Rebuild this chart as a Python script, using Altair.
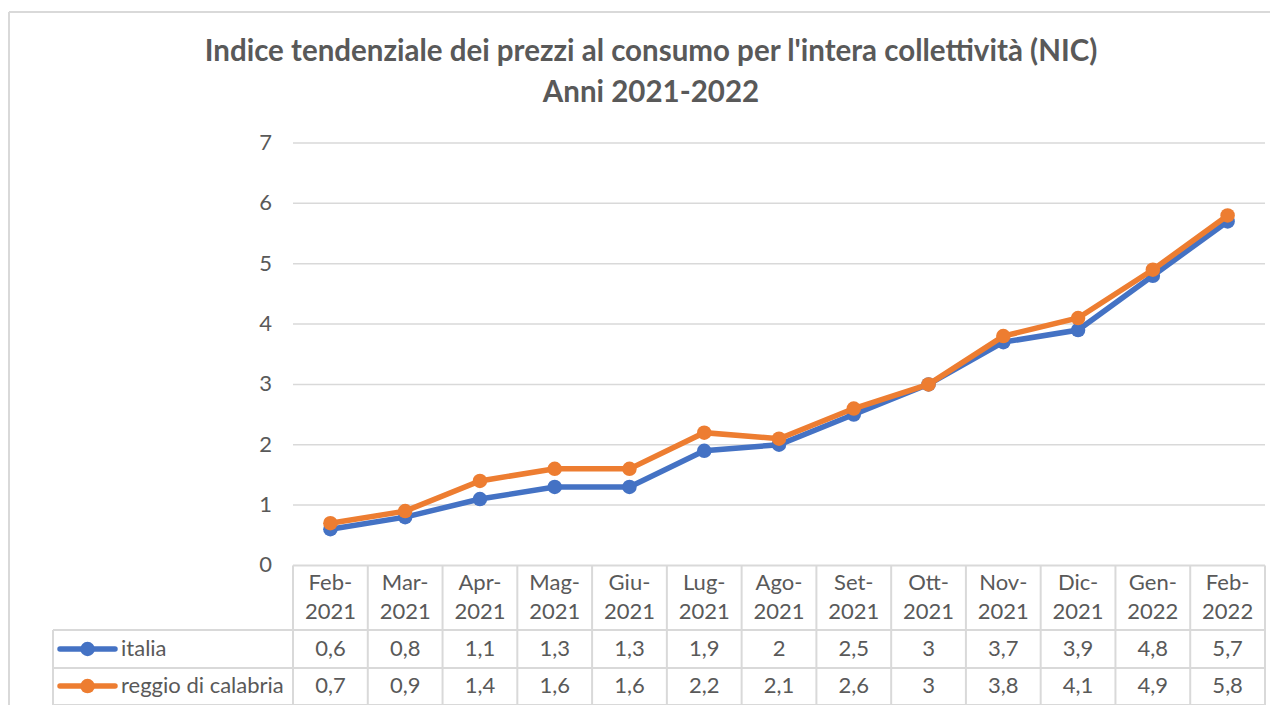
import altair as alt
import pandas as pd

# ---- data ----
months = ["Feb-2021", "Mar-2021", "Apr-2021", "Mag-2021", "Giu-2021", "Lug-2021", "Ago-2021",
          "Set-2021", "Ott-2021", "Nov-2021", "Dic-2021", "Gen-2022", "Feb-2022"]
italia = [0.6, 0.8, 1.1, 1.3, 1.3, 1.9, 2.0, 2.5, 3.0, 3.7, 3.9, 4.8, 5.7]
reggio = [0.7, 0.9, 1.4, 1.6, 1.6, 2.2, 2.1, 2.6, 3.0, 3.8, 4.1, 4.9, 5.8]
series_names = ["italia", "reggio di calabria"]
series_colors = ["#4472C4", "#ED7D31"]
y_ticks = [0, 1, 2, 3, 4, 5, 6, 7]
title_lines = ["Indice tendenziale dei prezzi al consumo per l'intera collettività (NIC)",
               "Anni 2021-2022"]

FONT = "Lato"
GRAY = "#595959"
GRID = "#D9D9D9"
FS = 22
TFS = 29.5

# layout in data units (table rows below the value axis)
LEFT = -3.21
N = len(months)
HDR_BOT, ROW1_BOT, ROW2_BOT = -1.071, -1.70, -2.313
HDR1_MID, HDR2_MID, ROW1_MID, ROW2_MID = -0.29, -0.77, -1.385, -2.0

def fmt(v):
    return ("%g" % v).replace(".", ",")

xs = alt.Scale(domain=[LEFT, N], nice=False, zero=False)
ys = alt.Scale(domain=[ROW2_BOT, 7], nice=False, zero=False)

def X(f):
    return alt.X(f, type="quantitative", scale=xs, axis=None)

def Y(f):
    return alt.Y(f, type="quantitative", scale=ys, axis=None)

rows = []
for name, vals in zip(series_names, [italia, reggio]):
    for i, (m, v) in enumerate(zip(months, vals)):
        rows.append({"series": name, "month": m, "pos": i + 0.5, "value": v})
df = pd.DataFrame(rows)

layers = []

# gridlines
grid_df = pd.DataFrame({"y": [t for t in y_ticks if t > 0], "x1": 0, "x2": N})
layers.append(alt.Chart(grid_df).mark_rule(color=GRID, strokeWidth=1.5).encode(
    x=X("x1"), x2="x2", y=Y("y")))

# y labels
ylab_df = pd.DataFrame({"y": y_ticks, "x": -0.28, "t": [str(t) for t in y_ticks]})
layers.append(alt.Chart(ylab_df).mark_text(align="right", baseline="middle", font=FONT,
                                           fontSize=FS, color=GRAY).encode(
    x=X("x"), y=Y("y"), text="t:N"))

# table horizontal lines
h_df = pd.DataFrame({"y": [0, HDR_BOT, ROW1_BOT, ROW2_BOT],
                     "x1": [0, LEFT, LEFT, LEFT], "x2": [N] * 4})
layers.append(alt.Chart(h_df).mark_rule(color=GRID, strokeWidth=2).encode(
    x=X("x1"), x2="x2", y=Y("y")))

# table vertical lines
v_df = pd.DataFrame({"x": [LEFT] + list(range(N + 1)),
                     "y1": [HDR_BOT] + [0] * (N + 1),
                     "y2": [ROW2_BOT] * (N + 2)})
layers.append(alt.Chart(v_df).mark_rule(color=GRID, strokeWidth=2).encode(
    x=X("x"), y=Y("y1"), y2="y2"))

# header labels (two lines each)
hdr_df = pd.DataFrame({"pos": [i + 0.5 for i in range(N)],
                       "t1": [m.split("-")[0] + "-" for m in months],
                       "t2": [m.split("-")[1] for m in months],
                       "y1": HDR1_MID, "y2": HDR2_MID})
for tf, yf in [("t1", "y1"), ("t2", "y2")]:
    layers.append(alt.Chart(hdr_df).mark_text(align="center", baseline="middle", font=FONT,
                                              fontSize=FS, color=GRAY).encode(
        x=X("pos"), y=Y(yf), text=f"{tf}:N"))

# value cells
cell_df = df.copy()
cell_df["t"] = cell_df["value"].map(fmt)
cell_df["y"] = cell_df["series"].map({series_names[0]: ROW1_MID, series_names[1]: ROW2_MID})
layers.append(alt.Chart(cell_df).mark_text(align="center", baseline="middle", font=FONT,
                                           fontSize=FS, color=GRAY).encode(
    x=X("pos"), y=Y("y"), text="t:N"))

# legend keys in the table
leg_df = pd.DataFrame({"series": series_names, "y": [ROW1_MID, ROW2_MID],
                       "x1": -3.116, "x2": -2.381, "xc": -2.748, "xt": -2.30})
for name, col in zip(series_names, series_colors):
    d = leg_df[leg_df.series == name]
    layers.append(alt.Chart(d).mark_rule(color=col, strokeWidth=5.5, strokeCap="round").encode(
        x=X("x1"), x2="x2", y=Y("y")))
    layers.append(alt.Chart(d).mark_point(filled=True, color=col, size=210, opacity=1).encode(
        x=X("xc"), y=Y("y")))
    layers.append(alt.Chart(d).mark_text(align="left", baseline="middle", font=FONT,
                                         fontSize=FS, color=GRAY).encode(
        x=X("xt"), y=Y("y"), text="series:N"))

# series lines
for name, col in zip(series_names, series_colors):
    d = df[df.series == name]
    layers.append(alt.Chart(d).mark_line(color=col, strokeWidth=5.5).encode(
        x=X("pos"), y=Y("value")))
    layers.append(alt.Chart(d).mark_point(filled=True, color=col, size=210, opacity=1).encode(
        x=X("pos"), y=Y("value")))

# title (two lines)
title_df = pd.DataFrame({"t": title_lines, "k": [0, 1]})
layers.append(alt.Chart(title_df[title_df.k == 0]).mark_text(
    align="center", baseline="middle", font=FONT, fontSize=TFS, fontWeight="bold",
    color=GRAY).encode(x=alt.value(598), y=alt.value(-91), text="t:N"))
layers.append(alt.Chart(title_df[title_df.k == 1]).mark_text(
    align="center", baseline="middle", font=FONT, fontSize=TFS, fontWeight="bold",
    color=GRAY).encode(x=alt.value(598), y=alt.value(-50), text="t:N"))

# outer frame of the chart
layers.append(alt.Chart(pd.DataFrame({"a": [0]})).mark_rule(color=GRID, strokeWidth=2).encode(
    x=alt.value(-44), y=alt.value(-131), y2=alt.value(700)))
layers.append(alt.Chart(pd.DataFrame({"a": [0]})).mark_rule(color=GRID, strokeWidth=2).encode(
    x=alt.value(-44), x2=alt.value(1300), y=alt.value(-131)))

chart = alt.layer(*layers).properties(
    width=1212, height=562,
    padding={"left": 45, "top": 135, "right": 5, "bottom": 0},
    autosize=alt.AutoSizeParams(type="none"),
).configure_view(stroke=None)

chart.save("out.html", embed_options={"renderer": "svg", "actions": False})
